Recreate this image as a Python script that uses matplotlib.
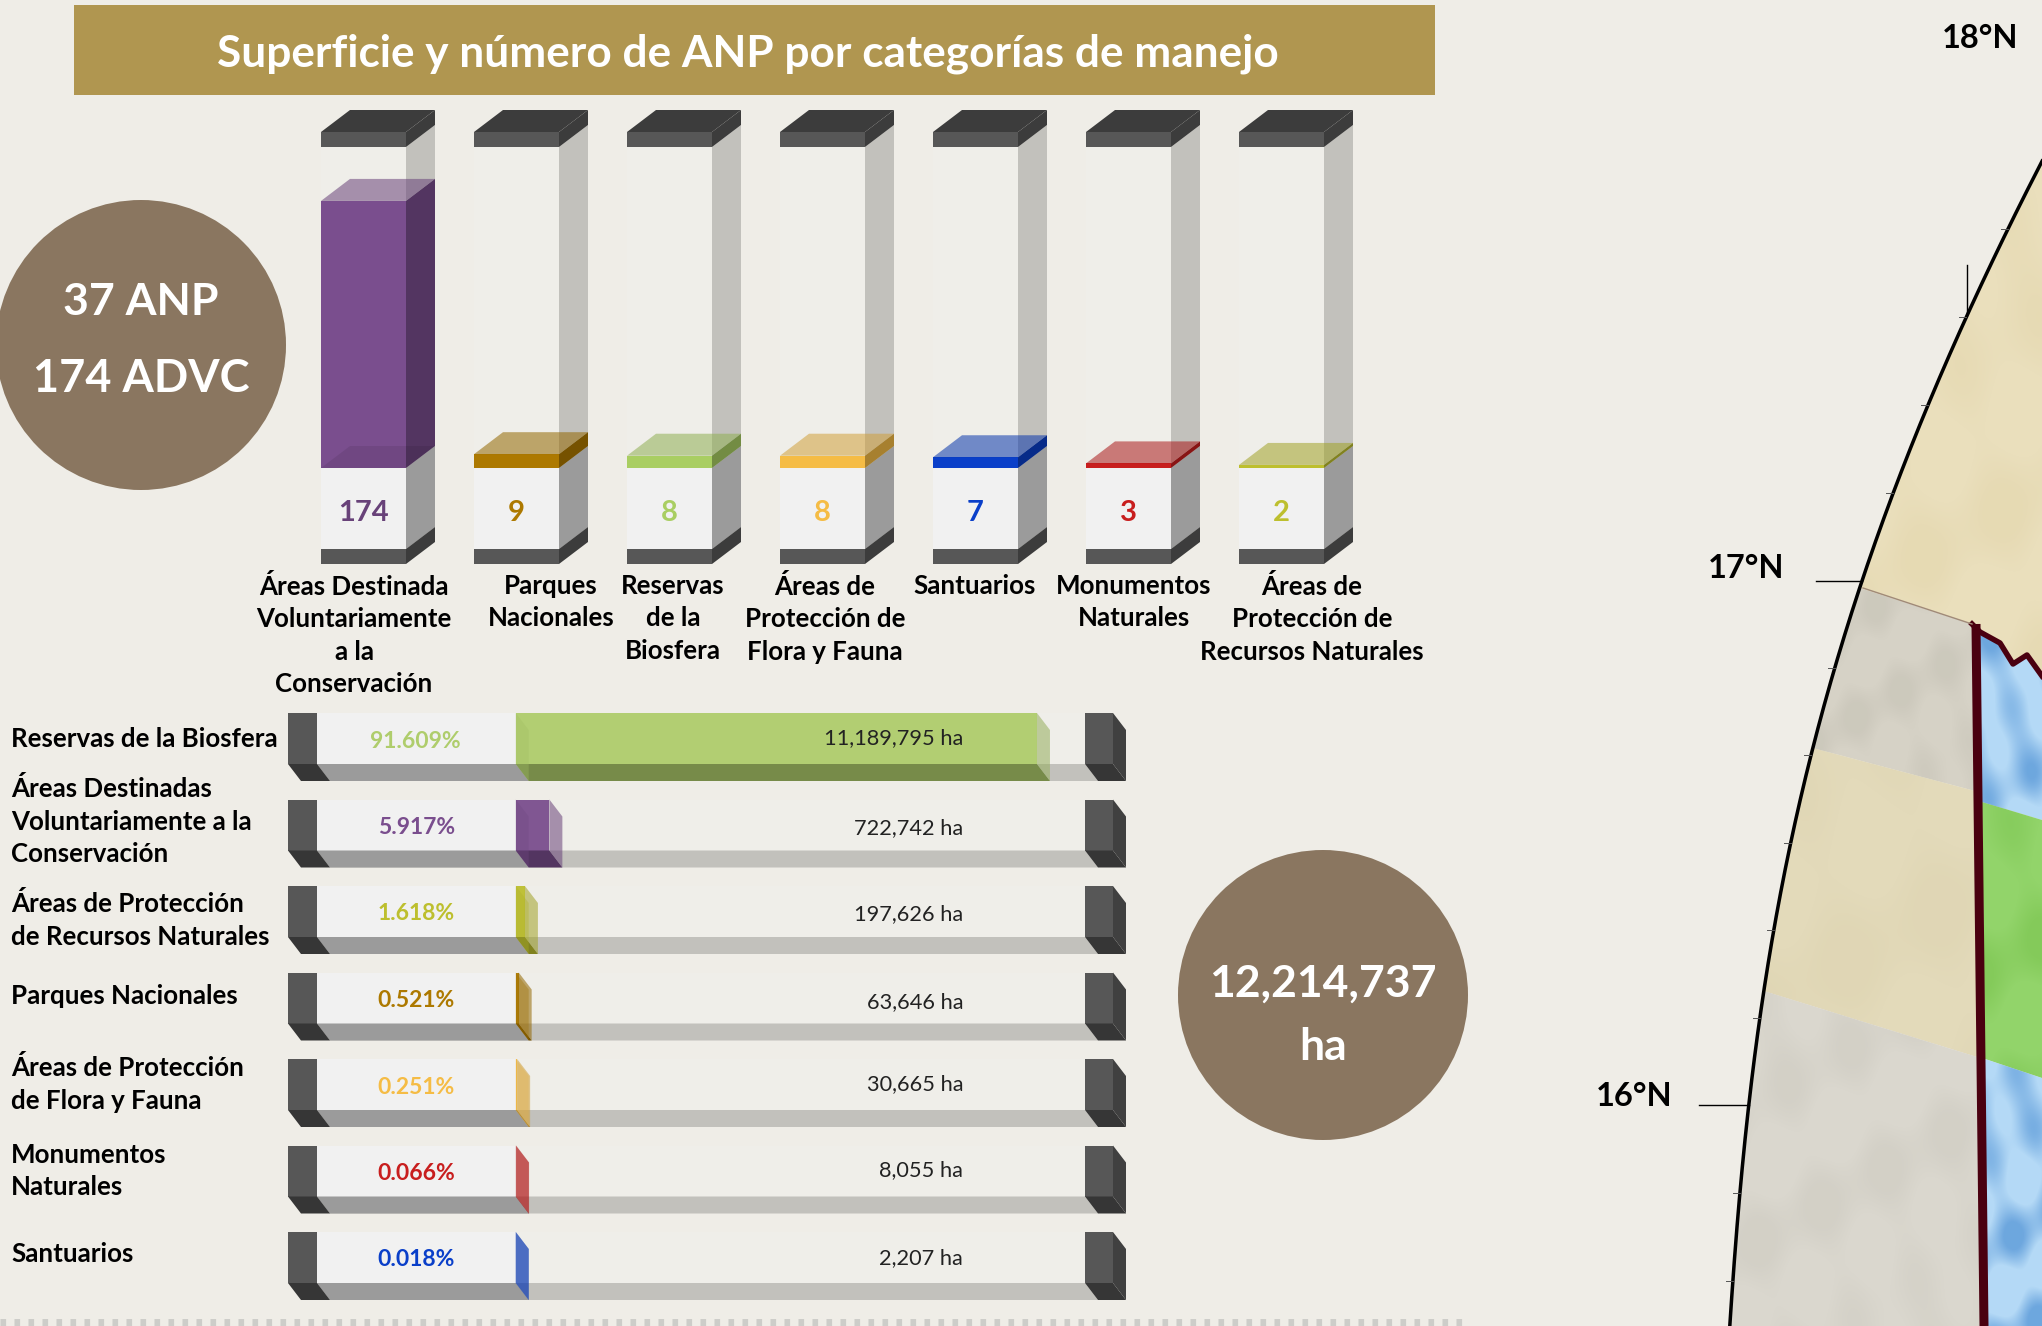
import numpy as np
import matplotlib
matplotlib.use("Agg")
import matplotlib.pyplot as plt
from matplotlib.patches import Polygon, Circle, Rectangle

plt.rcParams["font.family"] = ["Lato", "DejaVu Sans"]

# datos
categorias = ["Áreas Destinada\nVoluntariamente\na la\nConservación", "Parques\nNacionales",
              "Reservas\nde la\nBiosfera", "Áreas de\nProtección de\nFlora y Fauna", "Santuarios",
              "Monumentos\nNaturales", "Áreas de\nProtección de\nRecursos Naturales"]
numero_anp = [174, 9, 8, 8, 7, 3, 2]
colores_num = ["#7A4E8E", "#AD7900", "#A9CE62", "#F5BC45", "#0A3FC9", "#C81E1E", "#BDBF2E"]
centros_cat = [354, 551, 673, 825, 975, 1134, 1312]

nombres_sup = ["Reservas de la Biosfera", "Áreas Destinadas\nVoluntariamente a la\nConservación",
               "Áreas de Protección\nde Recursos Naturales", "Parques Nacionales",
               "Áreas de Protección\nde Flora y Fauna", "Monumentos\nNaturales", "Santuarios"]
porcentaje = [91.609, 5.917, 1.618, 0.521, 0.251, 0.066, 0.018]
hectareas = ["11,189,795 ha", "722,742 ha", "197,626 ha", "63,646 ha", "30,665 ha", "8,055 ha", "2,207 ha"]
colores_sup = ["#AFCD6C", "#7A4E8E", "#BDBF2E", "#AD7900", "#F5BC45", "#C81E1E", "#0A3FC9"]
y_nombres = [739, 821, 920, 996, 1084, 1171, 1254]
ajuste_ha = [25, 29, 28, 30, 25, 25, 26]

FONDO = "#EFEDE7"
CIRCULO = "#8A7660"

fig = plt.figure(figsize=(20.42, 13.26), dpi=100, facecolor=FONDO)


def eje_completo():
    a = fig.add_axes([0, 0, 1, 1], facecolor="none")
    a.axis("off")
    return a


# eje en pixeles para lo decorativo y los textos
ax = eje_completo()
ax.set_xlim(0, 2042)
ax.set_ylim(1326, 0)
ax.set_zorder(5)

# eje de barras verticales: y en numero de ANP
PX_ANP = 1.535
BASE_V = 468
ax_v = eje_completo()
ax_v.set_xlim(0, 2042)
ax_v.set_ylim((BASE_V - 1326) / PX_ANP, BASE_V / PX_ANP)

# eje de barras horizontales: x en porcentaje
PX_PCT = 5.69
BASE_H = 515.7
ax_h = eje_completo()
ax_h.set_xlim(-BASE_H / PX_PCT, (2042 - BASE_H) / PX_PCT)
ax_h.set_ylim(1326, 0)


def poli(a, pts, color, alpha=1.0, z=2):
    a.add_patch(Polygon(pts, closed=True, facecolor=color, edgecolor="none", alpha=alpha, zorder=z))


def oscurecer(c, f):
    rgb = np.array(matplotlib.colors.to_rgb(c))
    return tuple(rgb * f)


def textura(pts, color, fuerza, f1=0.045, f2=0.07):
    # manchas suaves del relieve, recortadas a la zona del mapa
    xx, yy = np.meshgrid(np.arange(1700, 2043), np.arange(150, 1327))
    m = (np.sin(xx * f1 + yy * f2) + np.sin(xx * f2 * 1.7 - yy * f1 * 0.8 + 1.3)
         + np.sin((xx + 2 * yy) * f1 * 0.6 + 0.5))
    m = np.clip((m + 0.6) / 2.6, 0, 1)
    rgba = np.zeros(m.shape + (4,))
    rgba[..., :3] = matplotlib.colors.to_rgb(color)
    rgba[..., 3] = m * fuerza
    im = ax.imshow(rgba, extent=(1700, 2043, 1327, 150), aspect="auto", zorder=2.5,
                   interpolation="bilinear")
    im.set_clip_path(Polygon(pts, closed=True, transform=ax.transData))


# titulo
ax.add_patch(Rectangle((74, 5), 1361, 90, facecolor="#B09650", edgecolor="none"))
ax.text(748, 54, "Superficie y número de ANP por categorías de manejo", color="white",
        fontsize=31.8, fontweight="bold", ha="center", va="center")

# circulos
ax.add_patch(Circle((141, 345), 145, facecolor=CIRCULO, edgecolor="none"))
ax.text(141, 302, "37 ANP", color="white", fontsize=32, fontweight="bold", ha="center", va="center")
ax.text(141, 379, "174 ADVC", color="white", fontsize=32.5, fontweight="bold", ha="center", va="center")
ax.add_patch(Circle((1323, 995), 145, facecolor=CIRCULO, edgecolor="none"))
ax.text(1323, 984, "12,214,737", color="white", fontsize=32, fontweight="bold", ha="center", va="center")
ax.text(1323, 1047, "ha", color="white", fontsize=32, fontweight="bold", ha="center", va="center")

# barras verticales
ANCHO = 85
DX = 29
DY = 22 / PX_ANP
Y_TOPE = (BASE_V - 132) / PX_ANP
Y_CAP = (BASE_V - 147) / PX_ANP
Y_PIE = (BASE_V - 549) / PX_ANP
Y_FONDO = (BASE_V - 564) / PX_ANP
for i, (n, col) in enumerate(zip(numero_anp, colores_num)):
    x0 = 321 + i * 153
    x1 = x0 + ANCHO
    # cuerpo vacio
    poli(ax_v, [(x0, Y_PIE), (x1, Y_PIE), (x1, Y_CAP), (x0, Y_CAP)], "#EFEEE9")
    poli(ax_v, [(x1, Y_PIE), (x1 + DX, Y_PIE + DY), (x1 + DX, Y_CAP + DY), (x1, Y_CAP)], "#C2C1BC")
    # parte baja
    poli(ax_v, [(x0, Y_PIE), (x1, Y_PIE), (x1, 0), (x0, 0)], "#F1F1F1")
    poli(ax_v, [(x1, Y_PIE), (x1 + DX, Y_PIE + DY), (x1 + DX, DY), (x1, 0)], "#9B9B9B")
    # relleno
    poli(ax_v, [(x0, 0), (x1, 0), (x1, n), (x0, n)], col, z=3)
    poli(ax_v, [(x1, 0), (x1 + DX, DY), (x1 + DX, n + DY), (x1, n)], oscurecer(col, 0.68), z=3)
    poli(ax_v, [(x0, n), (x1, n), (x1 + DX, n + DY), (x0 + DX, n + DY)], oscurecer(col, 0.85), alpha=0.55, z=4)
    if n > DY:
        poli(ax_v, [(x0, 0), (x1, 0), (x1 + DX, DY), (x0 + DX, DY)], "black", alpha=0.08, z=3.5)
    # tapas
    poli(ax_v, [(x0, Y_CAP), (x1, Y_CAP), (x1, Y_TOPE), (x0, Y_TOPE)], "#575757", z=5)
    poli(ax_v, [(x0, Y_TOPE), (x1, Y_TOPE), (x1 + DX, Y_TOPE + DY), (x0 + DX, Y_TOPE + DY)], "#3C3C3C", z=5)
    poli(ax_v, [(x1, Y_CAP), (x1 + DX, Y_CAP + DY), (x1 + DX, Y_TOPE + DY), (x1, Y_TOPE)], "#3C3C3C", z=5)
    poli(ax_v, [(x0, Y_FONDO), (x1, Y_FONDO), (x1, Y_PIE), (x0, Y_PIE)], "#575757", z=5)
    poli(ax_v, [(x1, Y_FONDO), (x1 + DX, Y_FONDO + DY), (x1 + DX, Y_PIE + DY), (x1, Y_PIE)], "#3C3C3C", z=5)
    texto_col = oscurecer(col, 0.85) if i == 0 else col
    ax.text((x0 + x1) / 2, 513, str(n), color=texto_col, fontsize=21,
            fontweight="bold", ha="center", va="center", zorder=6)
    ax.text(centros_cat[i], 574, categorias[i], color="black", fontsize=18.6, fontweight="bold",
            ha="center", va="top", linespacing=1.42, zorder=6)

# barras horizontales
ALTO = 51
DX_H = 13 / PX_PCT
DY_H = 17
X_IZQ = (317 - BASE_H) / PX_PCT
X_IZQ_CAP = (288 - BASE_H) / PX_PCT
X_DER = (1085 - BASE_H) / PX_PCT
X_DER_CAP = (1113 - BASE_H) / PX_PCT
for i, (p, col) in enumerate(zip(porcentaje, colores_sup)):
    y0 = 713 + i * 86.5
    y1 = y0 + ALTO
    y2 = y1 + DY_H
    # cuerpo
    poli(ax_h, [(X_IZQ, y0), (X_DER, y0), (X_DER, y1), (X_IZQ, y1)], "#EFEEE9")
    poli(ax_h, [(X_IZQ, y1), (X_DER, y1), (X_DER + DX_H, y2), (X_IZQ + DX_H, y2)], "#C2C1BC")
    poli(ax_h, [(X_IZQ, y0), (0, y0), (0, y1), (X_IZQ, y1)], "#F1F1F1")
    poli(ax_h, [(X_IZQ, y1), (0, y1), (DX_H, y2), (X_IZQ + DX_H, y2)], "#9B9B9B")
    # relleno
    poli(ax_h, [(0, y0), (p, y0), (p, y1), (0, y1)], col, alpha=0.95, z=3)
    poli(ax_h, [(0, y1), (p, y1), (p + DX_H, y2), (DX_H, y2)], oscurecer(col, 0.68), z=3)
    poli(ax_h, [(p, y0), (p + DX_H, y0 + DY_H), (p + DX_H, y2), (p, y1)], oscurecer(col, 0.85), alpha=0.55, z=4)
    poli(ax_h, [(0, y0), (DX_H, y0 + DY_H), (DX_H, y2), (0, y1)], oscurecer(col, 0.92), alpha=0.35, z=4)
    # tapas
    poli(ax_h, [(X_IZQ_CAP, y0), (X_IZQ, y0), (X_IZQ, y1), (X_IZQ_CAP, y1)], "#575757", z=5)
    poli(ax_h, [(X_IZQ_CAP, y1), (X_IZQ, y1), (X_IZQ + DX_H, y2), (X_IZQ_CAP + DX_H, y2)], "#363636", z=5)
    poli(ax_h, [(X_DER, y0), (X_DER_CAP, y0), (X_DER_CAP, y1), (X_DER, y1)], "#575757", z=5)
    poli(ax_h, [(X_DER, y1), (X_DER_CAP, y1), (X_DER_CAP + DX_H, y2), (X_DER + DX_H, y2)], "#363636", z=5)
    poli(ax_h, [(X_DER_CAP, y0), (X_DER_CAP + DX_H, y0 + DY_H), (X_DER_CAP + DX_H, y2), (X_DER_CAP, y1)],
         "#404040", z=5)
    # textos
    ax.text(461 if i == 0 else 455, y0 + 28, f"{p:.3f}%", color=col, fontsize=16.5, fontweight="bold",
            ha="right", va="center", zorder=6)
    ax.text(963, y0 + ajuste_ha[i], hectareas[i], color="#222222", fontsize=15.7, ha="right", va="center", zorder=6)
    ax.text(11, y_nombres[i], nombres_sup[i], color="black", fontsize=18.6, fontweight="bold",
            ha="left", va="center", linespacing=1.42, zorder=6)

# linea punteada inferior
ax.plot([0, 1470], [1321.5, 1321.5], color="#CDCDC9", lw=7 * 0.72, ls=(0, (0.8, 1.2)), solid_capstyle="butt")

# mapa
ys_arco = np.array([161, 317, 503, 588, 761, 989, 1104, 1326])
xs_arco = np.array([2042, 1967, 1887, 1863, 1807, 1767, 1747, 1730])
coef = np.polyfit(ys_arco, xs_arco, 4)


def arco(y):
    return np.polyval(coef, y)


def tramo(y0, y1):
    ys = np.linspace(y0, y1, 60)
    return list(zip(arco(ys), ys))


limite = [(1972, 624), (1980, 632), (2000, 643), (2013, 664), (2027, 655), (2042, 676)]
zona_tan = tramo(161, 588) + limite
zona_gris = tramo(588, 748) + [(1975, 791), (1972, 624)]
zona_tan2 = tramo(748, 991) + [(1977, 1057), (1975, 791)]
zona_gris2 = tramo(991, 1326) + [(1982, 1326), (1977, 1057)]
zona_azul = limite + [(2042, 820), (1982, 802)]
zona_verde = [(1982, 802), (2042, 820), (2042, 1078), (1985, 1059)]
zona_azul2 = [(1985, 1059), (2042, 1078), (2042, 1326), (1985, 1326)]

poli(ax, zona_tan, "#EADFBC")
poli(ax, zona_gris, "#D6D2C6")
poli(ax, zona_tan2, "#E3DABA")
poli(ax, zona_gris2, "#DAD7CE")
poli(ax, zona_azul, "#B4D9F6")
poli(ax, zona_verde, "#92D46A")
poli(ax, zona_azul2, "#B4D9F6")
textura(zona_azul, "#3F86CF", 0.6)
textura(zona_azul2, "#3F86CF", 0.6)
textura(zona_verde, "#6CBB3E", 0.35, 0.03, 0.05)
textura(zona_gris, "#A8A598", 0.2)
textura(zona_gris2, "#A8A598", 0.14, 0.03, 0.05)
textura(zona_tan, "#D6C48E", 0.18, 0.025, 0.04)
textura(zona_tan2, "#CFC49A", 0.15, 0.02, 0.035)

# borde marron
ax.plot([1976, 1984], [624, 1326], color="#4A0010", lw=9 * 0.72, zorder=3, solid_capstyle="butt")
ax.plot(*zip(*limite), color="#4A0010", lw=5.5 * 0.72, zorder=3)
ax.plot([1863, 1972], [588, 624], color="#A08A78", lw=1, zorder=3)

# arco y marcas
ys = np.linspace(161, 1326, 200)
ax.plot(arco(ys), ys, color="black", lw=3.5 * 0.72, zorder=4)
for y in [229, 317, 405, 493, 668, 755, 843, 930, 1018, 1193, 1281]:
    ax.plot([arco(y) - 7, arco(y)], [y, y], color="#555555", lw=0.7, zorder=4)
ax.plot([1816, arco(581)], [581, 581], color="black", lw=1, zorder=4)
ax.plot([1699, arco(1105)], [1105, 1105], color="black", lw=1, zorder=4)
ax.plot([1967, 1967], [265, 313], color="black", lw=1, zorder=4)

for texto, x, y in [("18°N", 1980, 39), ("17°N", 1746, 569), ("16°N", 1634, 1096)]:
    ax.text(x, y, texto, color="black", fontsize=23.5, fontweight="bold", ha="center", va="center")

ax.set_xlim(0, 2042)
ax.set_ylim(1326, 0)

fig.savefig("out.png", dpi=100, facecolor=FONDO)
